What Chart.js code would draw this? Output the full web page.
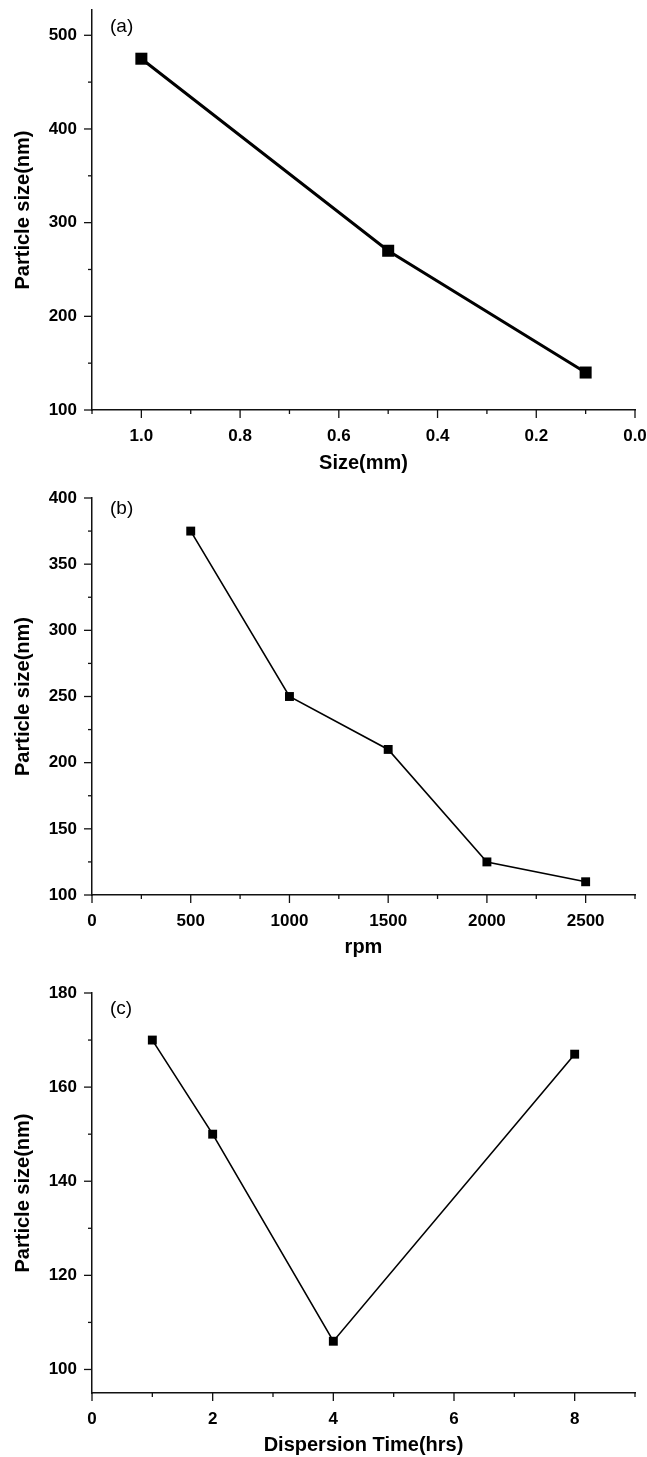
<!DOCTYPE html>
<html>
<head>
<meta charset="utf-8">
<script src="https://cdn.jsdelivr.net/npm/chart.js@4.4.1/dist/chart.umd.min.js"></script>
<style>
  html, body { margin: 0; padding: 0; background: #fff; }
  #wrap { position: relative; width: 647px; height: 1457px; }
  .panel { position: absolute; left: 0; width: 647px; }
</style>
</head>
<body>
<div id="wrap">
  <div class="panel" style="top:0;height:485px"><canvas id="chartA" width="647" height="485"></canvas></div>
  <div class="panel" style="top:485px;height:485px"><canvas id="chartB" width="647" height="485"></canvas></div>
  <div class="panel" style="top:970px;height:487px"><canvas id="chartC" width="647" height="487"></canvas></div>
</div>
<script>
// (a) milling media size
const sizeMm = [1.0, 0.5, 0.1];
const sizeNm = [475, 270, 140];
// (b) milling speed
const rpm = [500, 1000, 1500, 2000, 2500];
const rpmNm = [375, 250, 210, 125, 110];
// (c) dispersion time
const hours = [1, 2, 4, 8];
const hoursNm = [170, 150, 106, 167];

const panelTags = ['(a)', '(b)', '(c)'];
const xTitles = ['Size(mm)', 'rpm', 'Dispersion Time(hrs)'];
const yTitle = 'Particle size(nm)';

const FONT = "'Liberation Sans', Arial, sans-serif";

function pts(xs, ys) {
  return xs.map((x, i) => ({ x: x, y: ys[i] }));
}

function onStep(v, step) {
  const k = v / step;
  return Math.abs(k - Math.round(k)) < 1e-6;
}

// axis with minor ticks (unlabelled) and labelled major ticks
function axis(min, max, minor, major, fmt, title, pad, extra) {
  return Object.assign({
    type: 'linear',
    min: min,
    max: max,
    afterBuildTicks: s => { s.ticks = s.ticks.filter(t => onStep(t.value, minor)); },
    ticks: {
      stepSize: minor,
      autoSkip: false,
      maxRotation: 0,
      color: '#000',
      padding: pad,
      font: { family: FONT, size: 17, weight: 'bold' },
      callback: v => onStep(v, major) ? fmt(v) : ''
    },
    grid: { display: true, drawOnChartArea: false, drawTicks: true, tickLength: 8, tickColor: 'rgba(0,0,0,0)' },
    border: { display: true, color: '#111', width: 1.5 },
    title: {
      display: true,
      text: title,
      color: '#000',
      font: { family: FONT, size: 20, weight: 'bold' }
    }
  }, extra || {});
}

// own tick marks: long for labelled, short for minor
const tickMarks = {
  id: 'tickMarks',
  afterDraw(chart) {
    const ctx = chart.ctx;
    const area = chart.chartArea;
    const tag = chart.options.plugins.tag;
    ctx.save();
    ctx.strokeStyle = '#111';
    ctx.lineWidth = 1.3;
    ['x', 'y'].forEach(id => {
      const s = chart.scales[id];
      s.ticks.forEach(t => {
        const len = t.label === '' ? 4 : 8;
        const p = s.getPixelForValue(t.value);
        ctx.beginPath();
        if (id === 'x') {
          ctx.moveTo(p, area.bottom);
          ctx.lineTo(p, area.bottom + len);
        } else {
          ctx.moveTo(area.left, p);
          ctx.lineTo(area.left - len, p);
        }
        ctx.stroke();
      });
    });
    // panel tag
    ctx.fillStyle = '#000';
    ctx.font = '19px ' + FONT;
    ctx.textAlign = 'left';
    ctx.textBaseline = 'middle';
    ctx.fillText(tag.text, area.left + 18, area.top + tag.dy);
    ctx.restore();
  }
};

function makeChart(id, data, xAxis, yAxis, tag, radius, lineW, pad, xHeight) {
  xAxis.afterFit = s => { s.height = xHeight; s.paddingLeft = 0; s.paddingRight = 0; };
  yAxis.afterFit = s => { s.width = 92; s.paddingTop = 0; s.paddingBottom = 0; };
  return new Chart(document.getElementById(id), {
    type: 'line',
    data: {
      datasets: [{
        data: data,
        borderColor: '#000',
        backgroundColor: '#000',
        borderWidth: lineW,
        pointStyle: 'rect',
        pointRadius: radius,
        pointBorderWidth: 0,
        tension: 0
      }]
    },
    options: {
      responsive: false,
      animation: false,
      layout: { padding: pad },
      plugins: { legend: { display: false }, tooltip: { enabled: false }, tag: tag },
      scales: { x: xAxis, y: yAxis }
    },
    plugins: [tickMarks]
  });
}

const f1 = v => v.toFixed(1);
const f0 = v => String(Math.round(v));

const xA = axis(0, 1.1, 0.1, 0.2, f1, xTitles[0], 8, { reverse: true });
xA.title.padding = { top: 0, bottom: 10 };
const yA = axis(100, 527, 50, 100, f0, yTitle, 7);
yA.title.padding = { top: 11, bottom: 0 };
makeChart('chartA', pts(sizeMm, sizeNm), xA, yA, { text: panelTags[0], dy: 17 }, 8.5, 3,
  { top: 10, right: 12, bottom: 0, left: 0 }, 75);

const xB = axis(0, 2750, 250, 500, f0, xTitles[1], 8);
xB.title.padding = { top: 0, bottom: 11 };
const yB = axis(100, 400, 25, 50, f0, yTitle, 7);
yB.title.padding = { top: 11, bottom: 0 };
makeChart('chartB', pts(rpm, rpmNm), xB, yB, { text: panelTags[1], dy: 11 }, 6.3, 1.6,
  { top: 13, right: 12, bottom: 0, left: 0 }, 75);

const xC = axis(0, 9, 1, 2, f0, xTitles[2], 8);
xC.title.padding = { top: 0, bottom: 0 };
const yC = axis(95, 180, 10, 20, f0, yTitle, 7);
yC.title.padding = { top: 11, bottom: 0 };
makeChart('chartC', pts(hours, hoursNm), xC, yC, { text: panelTags[2], dy: 16 }, 6.3, 1.6,
  { top: 23, right: 12, bottom: 0, left: 0 }, 64);
</script>
</body>
</html>
